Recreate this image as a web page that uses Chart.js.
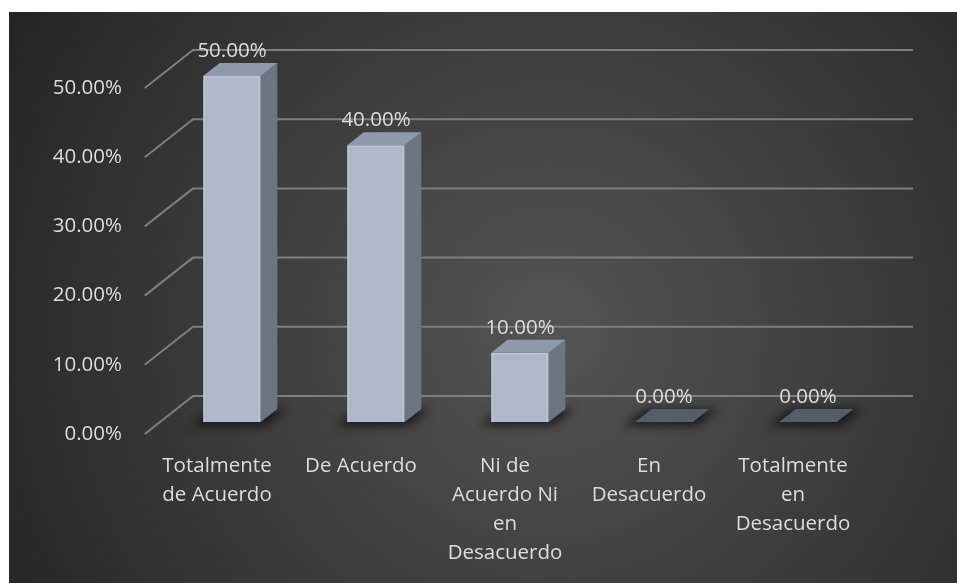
<!DOCTYPE html>
<html>
<head>
<meta charset="utf-8">
<script src="https://cdn.jsdelivr.net/npm/chart.js@4.4.1/dist/chart.umd.min.js"></script>
<style>
  html, body { margin: 0; padding: 0; background: #ffffff; }
  #wrap { width: 957px; height: 583px; }
</style>
</head>
<body>
<div id="wrap"><canvas id="grafico" width="957" height="583"></canvas></div>
<script>
var categorias = [
  ["Totalmente", "de Acuerdo"],
  ["De Acuerdo"],
  ["Ni de", "Acuerdo Ni", "en", "Desacuerdo"],
  ["En", "Desacuerdo"],
  ["Totalmente", "en", "Desacuerdo"]
];
var porcentajes = [50, 40, 10, 0, 0];
var ejeMin = 0;
var ejeMax = 50;
var ejePaso = 10;

// perspectiva: cuanto se corre a la derecha cada px que se sube hacia el fondo
var PROF_X = 1.27;
var fondoDy = 26;   // plano de las barras -> pared del fondo
var frenteDy = 12;  // plano de las barras -> borde frontal del piso
var barraDy = 13;   // profundidad de cada barra

var colorTexto = "#dcdcdc";
var fuente = '"Open Sans", sans-serif';
var tamTexto = 20.5;

function poligono(ctx, pts) {
  ctx.beginPath();
  ctx.moveTo(pts[0][0], pts[0][1]);
  for (var i = 1; i < pts.length; i++) ctx.lineTo(pts[i][0], pts[i][1]);
  ctx.closePath();
  ctx.fill();
}

var fondo = {
  id: "fondo",
  beforeDraw: function(chart) {
    var ctx = chart.ctx;
    ctx.save();
    ctx.fillStyle = "#ffffff";
    ctx.fillRect(0, 0, chart.width, chart.height);
    var g = ctx.createRadialGradient(550, 330, 0, 550, 330, 620);
    g.addColorStop(0, "#545454");
    g.addColorStop(1, "#252525");
    ctx.fillStyle = g;
    ctx.fillRect(9, 12, chart.width - 9, chart.height - 12);
    ctx.restore();
  }
};

// rejilla en la pared del fondo y la pared lateral, mas las sombras del piso
var rejilla = {
  id: "rejilla",
  beforeDatasetsDraw: function(chart) {
    var ctx = chart.ctx, area = chart.chartArea, ejeY = chart.scales.y;
    ctx.save();
    ctx.strokeStyle = "#7e7e7e";
    ctx.lineWidth = 2;
    ejeY.ticks.forEach(function(t) {
      var py = ejeY.getPixelForValue(t.value);
      ctx.beginPath();
      ctx.moveTo(area.left - frenteDy * PROF_X, py + frenteDy);
      ctx.lineTo(area.left + fondoDy * PROF_X, py - fondoDy);
      ctx.lineTo(area.right + fondoDy * PROF_X, py - fondoDy);
      ctx.stroke();
    });

    var dx = barraDy * PROF_X, dy = barraDy;
    ctx.filter = "blur(5px)";
    ctx.fillStyle = "rgba(0,0,0,0.6)";
    chart.getDatasetMeta(0).data.forEach(function(bar) {
      var l = bar.x - bar.width / 2, r = bar.x + bar.width / 2, b = bar.base;
      poligono(ctx, [[l - 12, b + 4], [r + 4, b + 4], [r + dx + 10, b - dy], [l + dx - 6, b - dy]]);
    });
    ctx.restore();
  }
};

// caras lateral y superior de cada barra, y los rotulos de valor
var cubos = {
  id: "cubos",
  afterDatasetsDraw: function(chart) {
    var ctx = chart.ctx;
    var dx = barraDy * PROF_X, dy = barraDy;
    ctx.save();
    chart.getDatasetMeta(0).data.forEach(function(bar, i) {
      var l = bar.x - bar.width / 2, r = bar.x + bar.width / 2, t = bar.y, b = bar.base;
      if (porcentajes[i] > 0) {
        ctx.fillStyle = "#6c7582";
        poligono(ctx, [[r, t], [r + dx, t - dy], [r + dx, b - dy], [r, b]]);
        ctx.fillStyle = "#8e9aab";
        poligono(ctx, [[l, t], [l + dx, t - dy], [r + dx, t - dy], [r, t]]);
        // brillo en las aristas del frente
        ctx.strokeStyle = "rgba(220,228,240,0.45)";
        ctx.lineWidth = 1;
        ctx.beginPath();
        ctx.moveTo(l + 1, b);
        ctx.lineTo(l + 1, t + 1);
        ctx.lineTo(r - 2, t + 1);
        ctx.lineTo(r - 2, b);
        ctx.stroke();
      } else {
        ctx.fillStyle = "#555d69";
        poligono(ctx, [[l, b], [l + dx, b - dy], [r + dx, b - dy], [r, b]]);
      }
    });

    ctx.fillStyle = colorTexto;
    ctx.font = tamTexto + "px " + fuente;
    ctx.textAlign = "center";
    ctx.textBaseline = "middle";
    chart.getDatasetMeta(0).data.forEach(function(bar, i) {
      ctx.fillText(porcentajes[i].toFixed(2) + "%", bar.x, bar.y - 25);
    });
    ctx.restore();
  }
};

Chart.defaults.font.family = fuente;
Chart.defaults.font.size = tamTexto;
Chart.defaults.color = colorTexto;

new Chart(document.getElementById("grafico"), {
  type: "bar",
  data: {
    labels: categorias,
    datasets: [{
      data: porcentajes,
      backgroundColor: "#adb9cb",
      borderWidth: 0,
      categoryPercentage: 1,
      barPercentage: 0.4
    }]
  },
  options: {
    responsive: false,
    animation: false,
    layout: { padding: { top: 76, right: 77, bottom: 0, left: 0 } },
    plugins: {
      legend: { display: false },
      tooltip: { enabled: false }
    },
    scales: {
      x: {
        grid: { display: false, drawTicks: false },
        border: { display: false },
        ticks: {
          autoSkip: false,
          maxRotation: 0,
          padding: 30,
          labelOffset: -15,
          font: { size: tamTexto, lineHeight: "29px" }
        },
        afterFit: function(scale) { scale.height = 161; }
      },
      y: {
        min: ejeMin,
        max: ejeMax,
        grid: { display: false, drawTicks: false },
        border: { display: false },
        ticks: {
          stepSize: ejePaso,
          padding: 38,
          labelOffset: 12,
          callback: function(v) { return v.toFixed(2) + "%"; }
        },
        afterFit: function(scale) { scale.width = 160; }
      }
    }
  },
  plugins: [fondo, rejilla, cubos]
});
</script>
</body>
</html>
